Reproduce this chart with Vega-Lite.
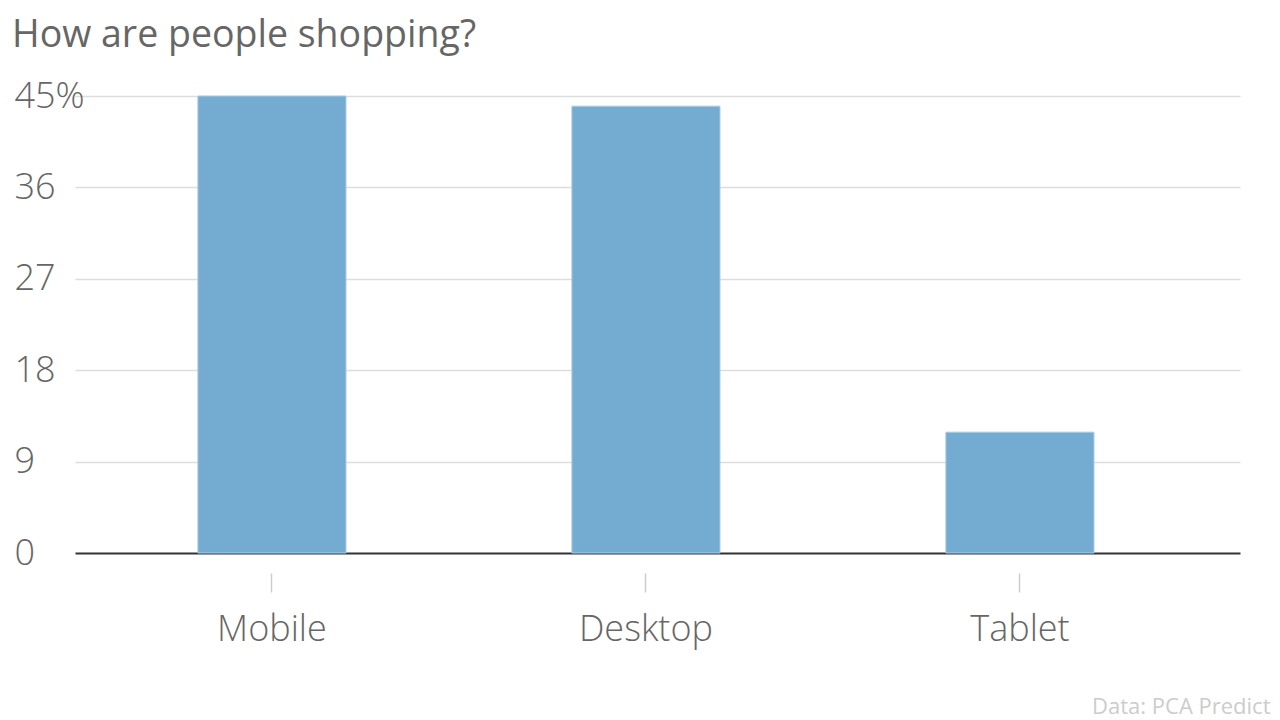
{
  "$schema": "https://vega.github.io/schema/vega-lite/v6.json",
  "autosize": {"type": "none"},
  "padding": {"left": 75, "top": 96, "right": 40, "bottom": 167},
  "width": 1165,
  "height": 457,
  "background": "white",
  "title": {
    "text": "How are people shopping?",
    "anchor": "start",
    "frame": "bounds",
    "font": "Open Sans",
    "fontSize": 37.5,
    "fontWeight": "normal",
    "color": "#666666",
    "offset": 24,
    "dx": -2
  },
  "data": {
    "values": [
      {"device": "Mobile", "share": 45},
      {"device": "Desktop", "share": 44},
      {"device": "Tablet", "share": 11.9}
    ]
  },
  "mark": {"type": "bar", "color": "#74abd1", "stroke": "#a9cce4", "strokeWidth": 1},
  "encoding": {
    "x": {
      "field": "device",
      "type": "nominal",
      "sort": ["Mobile", "Desktop", "Tablet"],
      "scale": {"paddingInner": 0.604, "paddingOuter": 0.3595, "align": 0.457},
      "axis": {
        "title": "Data: PCA Predict",
        "titleX": 1195,
        "titleY": 140,
        "titleAlign": "right",
        "titleBaseline": "alphabetic",
        "titleFont": "Open Sans",
        "titleFontSize": 22,
        "titleFontWeight": "normal",
        "titleColor": "#cccccc",
        "offset": 20,
        "domain": false,
        "ticks": true,
        "tickSize": 19,
        "tickColor": "#cccccc",
        "tickWidth": 1.5,
        "bandPosition": 0.5,
        "labelAngle": 0,
        "labelPadding": 20,
        "labelFont": "Open Sans",
        "labelFontSize": 36,
        "labelFontWeight": 300,
        "labelColor": "#666666",
        "grid": false
      }
    },
    "y": {
      "field": "share",
      "type": "quantitative",
      "scale": {"domain": [0, 45], "nice": false},
      "axis": {
        "title": null,
        "values": [0, 9, 18, 27, 36, 45],
        "labelExpr": "datum.value == 45 ? '45%' : (datum.value < 10 ? '\u2007' + datum.label : datum.label)",
        "labelAlign": "left",
        "labelBaseline": "middle",
        "labelPadding": 61,
        "labelFont": "Open Sans",
        "labelFontSize": 36,
        "labelFontWeight": 300,
        "labelColor": "#666666",
        "ticks": false,
        "domain": false,
        "grid": true,
        "gridColor": {"expr": "datum.value == 0 ? '#333333' : '#dddddd'"},
        "gridWidth": {"expr": "datum.value == 0 ? 2 : 1.5"}
      }
    }
  },
  "config": {
    "view": {"stroke": null}
  }
}
